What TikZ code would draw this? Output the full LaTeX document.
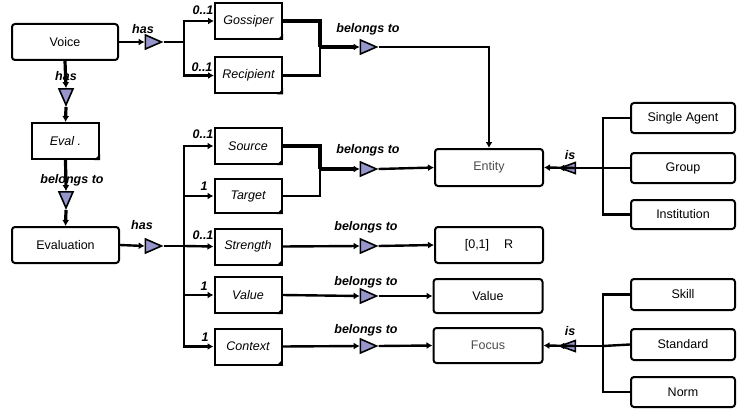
\documentclass[tikz,border=0pt]{standalone}
\usepackage{fontspec}
\setmainfont{Liberation Sans}
\usetikzlibrary{arrows.meta,shapes.geometric}
\definecolor{trifill}{RGB}{150,150,204}
\definecolor{greytext}{RGB}{75,75,75}
\tikzset{
  box/.style={draw, line width=2pt, rectangle, inner sep=0pt, font=\fontsize{12.5}{14}\selectfont},
  roundbox/.style={box, rounded corners=3pt},
  notebox/.style={box, minimum width=67pt, minimum height=36pt, font=\fontsize{12.5}{14}\selectfont\itshape},
  rightbox/.style={roundbox, minimum width=104pt, minimum height=30pt},
  midbox/.style={roundbox, minimum width=108pt, minimum height=36pt},
  lbl/.style={font=\fontsize{12.5}{14}\selectfont\bfseries\itshape, inner sep=0pt},
  conn/.style={line width=2.4pt},
  heavy/.style={line width=3.2pt},
  arr/.style={conn, -{Latex[length=6pt,width=7pt]}},
  tri/.style={draw, line width=1.6pt, fill=trifill, isosceles triangle, isosceles triangle stretches, inner sep=0pt, minimum width=14pt, minimum height=16pt},
  triR/.style={tri, shape border rotate=0},
  triD/.style={tri, shape border rotate=-90},
  triL/.style={tri, shape border rotate=180, minimum width=11pt, minimum height=15pt},
}
\begin{document}
\begin{tikzpicture}[x=1pt,y=-1pt]
\useasboundingbox (0,0) rectangle (753,412);
% left column
\node[roundbox, minimum width=106pt, minimum height=36pt] (voice) at (65,42) {Voice};
\node[notebox] (eval) at (65.5,141) {Eval .};
\node[roundbox, minimum width=107pt, minimum height=36pt] (evaluation) at (65.5,245) {Evaluation};
% attribute boxes
\node[notebox] (gos) at (248.5,21) {Gossiper};
\node[notebox] (rec) at (248.5,75.5) {Recipient};
\node[notebox] (src) at (248,146) {Source};
\node[notebox, minimum height=34pt] (tgt) at (248,196) {Target};
\node[notebox] (str) at (248,246.5) {Strength};
\node[notebox] (val) at (248,295) {Value};
\node[notebox] (ctx) at (248,346.5) {Context};
\foreach \n in {gos,rec,eval,src,tgt,str,val,ctx}
  \fill (\n.south east) ++(-6,0) -- (\n.south east) -- ++(0,-6) -- cycle;
% middle targets
\node[midbox, minimum height=37pt, text=greytext] (entity) at (489,167.5) {Entity};
\node[midbox] (rng) at (489,245) {[0,1]\hspace{1.2em}R};
\node[midbox, minimum width=109pt, minimum height=34pt] (valbox) at (488,296) {Value};
\node[midbox, minimum width=109pt, minimum height=35pt, text=greytext] (focus) at (488,345.5) {Focus};
% right boxes
\node[rightbox] (single) at (683,118) {Single Agent};
\node[rightbox] (group) at (683,168) {Group};
\node[rightbox, minimum height=29pt] (inst) at (683,214.5) {Institution};
\node[rightbox, minimum height=31pt] (skill) at (683,294.5) {Skill};
\node[rightbox, minimum height=31pt] (standard) at (683,344.5) {Standard};
\node[rightbox] (norm) at (683,392) {Norm};
% triangles
\node[triR] (t1) at (150,42) {};
\node[triD] (t2) at (66,93.5) {};
\node[triD] (t3) at (66,196.5) {};
\node[triR] (t4) at (150,246) {};
\node[triR] (t5) at (365,47) {};
\node[triR] (t6) at (365,169) {};
\node[triR] (t7) at (365,246) {};
\node[triR] (t8) at (365,296) {};
\node[triR] (t9) at (365,346) {};
\node[triL] (t10) at (571.5,168) {};
\node[triL] (t11) at (571.5,346) {};
% bus coordinates
\coordinate (bA) at (184,42);
\coordinate (mA) at (320,47);
\coordinate (bB) at (184,246);
\coordinate (mB) at (320,169);
\coordinate (bE) at (603,168);
\coordinate (bF) at (603,346);
% labels
\node[lbl] (lhas1) at (143,29) {has};
\node[lbl] (lhas2) at (66,76) {has};
\node[lbl] (lbel0) at (72,180) {belongs to};
\node[lbl] (lhas3) at (142,225) {has};
\node[lbl] (lm1) at (203,10) {0..1};
\node[lbl] (lm2) at (202,67) {0..1};
\node[lbl] (lm3) at (203,134) {0..1};
\node[lbl] (lm4) at (204,186) {1};
\node[lbl] (lm5) at (203,235) {0..1};
\node[lbl] (lm6) at (204,286) {1};
\node[lbl] (lm7) at (205,337) {1};
\node[lbl] (lb1) at (368,29) {belongs to};
\node[lbl] (lb2) at (368,150) {belongs to};
\node[lbl] (lb3) at (366,227) {belongs to};
\node[lbl] (lb4) at (366,282) {belongs to};
\node[lbl] (lb5) at (366,330) {belongs to};
\node[lbl] (lis1) at (570,155) {is};
\node[lbl] (lis2) at (570,331) {is};
% Voice connectors
\draw[arr] (voice.east) -- (t1.west);
\draw[conn] (t1.east) -- (bA);
\draw[arr] (bA) |- (gos.west);
\draw[arr] (bA) |- (rec.west);
\draw[conn, heavy] (gos.east) -| (mA);
\draw[conn] (rec.east) -| (mA);
\draw[arr, heavy] (mA) -- (t5.west);
\draw[arr] (t5.east) -| (entity.north);
\draw[arr, heavy] (voice.south) -- (t2.north);
\draw[arr, heavy] (t2.south) -- (eval.north);
\draw[arr, heavy] (eval.south) -- (t3.north);
\draw[arr, heavy] (t3.south) -- (evaluation.north);
% Evaluation connectors
\draw[arr] (evaluation.east) -- (t4.west);
\draw[conn] (t4.east) -- (bB);
\draw[arr] (bB) |- (src.west);
\draw[arr] (bB) |- (tgt.west);
\draw[arr] (bB) -- (str.west);
\draw[arr] (bB) |- (val.west);
\draw[arr] (bB) |- (ctx.west);
\draw[conn, heavy] (src.east) -| (mB);
\draw[conn] (tgt.east) -| (mB);
\draw[arr, heavy] (mB) -- (t6.west);
\draw[arr] (t6.east) -- (entity.west);
\draw[arr] (str.east) -- (t7.west);
\draw[arr] (t7.east) -- (rng.west);
\draw[arr] (val.east) -- (t8.west);
\draw[arr] (t8.east) -- (valbox.west);
\draw[arr] (ctx.east) -- (t9.west);
\draw[arr] (t9.east) -- (focus.west);
% right side
\draw[conn] (single.west) -| (bE);
\draw[conn] (inst.west) -| (bE);
\draw[conn] (group.west) -- (bE);
\draw[arr] (bE) -- (t10.west);
\draw[arr] (t10.east) -- (entity.east);
\draw[conn] (skill.west) -| (bF);
\draw[conn] (norm.west) -| (bF);
\draw[conn] (standard.west) -- (bF);
\draw[arr] (bF) -- (t11.west);
\draw[arr] (t11.east) -- (focus.east);
\end{tikzpicture}
\end{document}
